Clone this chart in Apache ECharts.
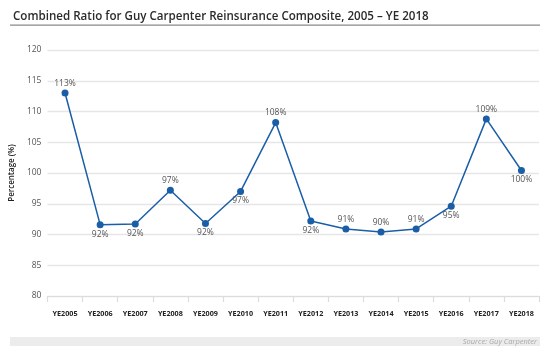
<!DOCTYPE html>
<html><head><meta charset="utf-8">
<script src="https://cdn.jsdelivr.net/npm/echarts@6/dist/echarts.min.js"></script>
<style>html,body{margin:0;padding:0;background:#fff}#c{width:550px;height:357px}</style>
</head><body><div id="c"></div>
<script>
const categories = ['YE2005','YE2006','YE2007','YE2008','YE2009','YE2010','YE2011','YE2012','YE2013','YE2014','YE2015','YE2016','YE2017','YE2018'];
const ratioValues = [113.0, 91.6, 91.7, 97.2, 91.8, 97.0, 108.2, 92.2, 90.9, 90.4, 90.9, 94.6, 108.8, 100.4];
const labelPlacement = ['top','bottom','bottom','top','bottom','bottom','top','bottom','top','top','top','bottom','top','bottom'];
const yTicks = [80, 85, 90, 95, 100, 105, 110, 115, 120];

const chart = echarts.init(document.getElementById('c'), null, {renderer:'canvas'});
const font = '"Open Sans", "DejaVu Sans", sans-serif';
chart.setOption({
  animation:false,
  textStyle:{fontFamily:font},
  title:{text:'Combined Ratio for Guy Carpenter Reinsurance Composite, 2005 – YE 2018', left:8, top:6,
    textStyle:{fontFamily:font, fontSize:11.6, fontWeight:600, color:'#2b2b2b'}},
  graphic:[
    {type:'rect', shape:{x:10,y:24.5,width:530,height:1.2}, style:{fill:'#8a8a8a'}},
    {type:'rect', shape:{x:10,y:337,width:530,height:9}, style:{fill:'#ececec'}},
    {type:'text', right:13, top:337.5, style:{text:'Source: Guy Carpenter', font:'italic 7.5px '+font, fill:'#a8a8a8'}}
  ],
  grid:{left:43, right:11, top:50, bottom:61, containLabel:false},
  xAxis:{type:'category', data:categories, boundaryGap:true,
    axisLine:{lineStyle:{color:'#dcdcdc', width:1.2}},
    axisTick:{show:true, length:6, interval:0, lineStyle:{color:'#dcdcdc', width:1.2}},
    axisLabel:{interval:0, fontFamily:font, fontSize:7.2, fontWeight:700, color:'#222', margin:14}},
  yAxis:{type:'value', min:yTicks[0], max:yTicks[yTicks.length-1], interval:5,
    name:'Percentage (%)', nameLocation:'middle', nameGap:27,
    nameTextStyle:{fontFamily:font, fontSize:8, fontWeight:600, color:'#222'},
    axisLine:{show:false}, axisTick:{show:false},
    axisLabel:{fontFamily:font, fontSize:8.5, color:'#555', margin:6},
    splitLine:{lineStyle:{color:'#e6e6e6', width:1.3}}},
  series:[{type:'line', data:ratioValues.map((v,i)=>({value:v, label:{position:labelPlacement[i]}})),
    symbol:'circle', symbolSize:7,
    lineStyle:{color:'#1a5ea8', width:1.5},
    itemStyle:{color:'#1a5ea8'},
    label:{show:true, distance:1.5, fontFamily:font, fontSize:8.5, color:'#555',
      formatter:p=>Math.round(p.value)+'%'}
  }]
});
</script></body></html>
